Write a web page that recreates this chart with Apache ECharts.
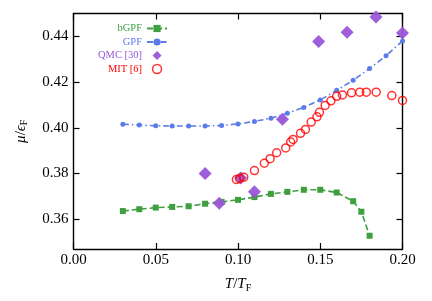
<!DOCTYPE html>
<html><head><meta charset="utf-8">
<script src="https://cdn.jsdelivr.net/npm/echarts@6/dist/echarts.min.js"></script>
<style>html,body{margin:0;padding:0;background:#fff}#c{width:432px;height:301px}</style>
</head><body><div id="c"></div>
<script>
// ---- data ----
const bgpfT  = [0.03,0.04,0.05,0.06,0.07,0.08,0.09,0.10,0.11,0.12,0.13,0.14,0.15,0.16,0.17,0.175,0.18];
const bgpfMu = [0.3636,0.3644,0.3651,0.3654,0.3657,0.3668,0.3676,0.3685,0.3697,0.3711,0.3720,0.3729,0.3729,0.3717,0.3679,0.3633,0.3528];
const gpfT   = [0.03,0.04,0.05,0.06,0.07,0.08,0.09,0.10,0.11,0.12,0.13,0.14,0.15,0.16,0.17,0.18,0.19,0.20];
const gpfMu  = [0.4016,0.4012,0.4009,0.4008,0.4008,0.4008,0.4010,0.4017,0.4028,0.4042,0.4064,0.4089,0.4122,0.4164,0.4208,0.4259,0.4315,0.4380];
const qmcT   = [0.080,0.0886,0.1016,0.110,0.127,0.149,0.1663,0.1839,0.200];
const qmcMu  = [0.3800,0.3670,0.3780,0.3720,0.4037,0.4378,0.4418,0.4485,0.4415];
const mitT   = [0.099,0.101,0.1035,0.110,0.116,0.1195,0.1235,0.129,0.132,0.1335,0.138,0.141,0.1445,0.148,0.1495,0.153,0.1565,0.160,0.1635,0.169,0.174,0.178,0.184,0.1935,0.2];
const mitMu  = [0.3774,0.3778,0.3784,0.3813,0.3845,0.3865,0.3891,0.3912,0.3938,0.3949,0.3976,0.3993,0.4025,0.4048,0.4068,0.4098,0.4118,0.4138,0.4144,0.4153,0.4156,0.4156,0.4156,0.4141,0.4120];
const xTicks = [0, 0.05, 0.10, 0.15, 0.20];
const yTicks = [0.36, 0.38, 0.40, 0.42, 0.44];
const names  = ['bGPF', 'GPF', 'QMC [30]', 'MIT [6]'];
const colors = ['#3f9f3f', '#5b7be8', '#9a55d8', '#ff0000'];

const zip = (a, b) => a.map((v, i) => [v, b[i]]);
const FONT = 'Liberation Serif';
const axisCommon = {
  axisLine: {show: true, onZero: false, lineStyle: {color: '#000', width: 1.4}},
  axisTick: {show: true, inside: true, length: 6, lineStyle: {color: '#000', width: 1.2}},
  splitLine: {show: false}
};
const legendItems = [
  {name: names[0], textStyle: {color: colors[0]}},
  {name: names[1], textStyle: {color: colors[1]}},
  {name: names[2], textStyle: {color: colors[2]}, icon: 'path://M5,0 L10,5 L5,10 L0,5 Z'},
  {name: names[3], textStyle: {color: colors[3]}, icon: 'circle',
    itemStyle: {color: '#fff', borderColor: colors[3], borderWidth: 1.5}}
];
const chart = echarts.init(document.getElementById('c'), null, {renderer: 'canvas'});
chart.setOption({
  animation: false,
  backgroundColor: '#fff',
  textStyle: {fontFamily: FONT},
  grid: {left: 73.5, right: 29.5, top: 13.5, bottom: 52, containLabel: false},
  legend: {
    orient: 'vertical', align: 'right', left: 93, top: 18,
    itemWidth: 20, itemHeight: 9, itemGap: 2.5, symbolKeepAspect: true,
    textStyle: {fontFamily: FONT, fontSize: 10.5},
    data: legendItems
  },
  xAxis: [
    Object.assign({type: 'value', position: 'bottom', min: 0, max: 0.2, interval: 0.05,
      axisLabel: {color: '#000', fontSize: 15, fontFamily: FONT, margin: 4, formatter: v => v.toFixed(2)},
      name: '{i|T}/{i|T}{s|F}', nameLocation: 'middle', nameGap: 27,
      nameTextStyle: {color: '#000', fontFamily: FONT, fontSize: 15,
        rich: {i: {fontStyle: 'italic', fontSize: 15, fontFamily: FONT}, s: {fontSize: 10, fontFamily: FONT, padding: [7, 0, 0, 0]}}}
    }, axisCommon),
    Object.assign({type: 'value', position: 'top', min: 0, max: 0.2, interval: 0.05, axisLabel: {show: false}}, axisCommon)
  ],
  yAxis: [
    Object.assign({type: 'value', position: 'left', min: 0.347, max: 0.45,
      axisLabel: {color: '#000', fontSize: 15, fontFamily: FONT, margin: 5, customValues: yTicks, formatter: v => v.toFixed(2)},
      name: '{i|μ}/{i|ϵ}{s|F}', nameLocation: 'middle', nameGap: 44, nameRotate: 90,
      nameTextStyle: {color: '#000', fontFamily: FONT, fontSize: 15,
        rich: {i: {fontStyle: 'italic', fontSize: 15, fontFamily: FONT}, s: {fontSize: 10, fontFamily: FONT, padding: [7, 0, 0, 0]}}}
    }, axisCommon,
      {axisTick: {show: true, inside: true, length: 6, customValues: yTicks, lineStyle: {color: '#000', width: 1.2}}}),
    Object.assign({type: 'value', position: 'right', min: 0.347, max: 0.45, axisLabel: {show: false}}, axisCommon,
      {axisTick: {show: true, inside: true, length: 6, customValues: yTicks, lineStyle: {color: '#000', width: 1.2}}})
  ],
  series: [
    {name: names[0], type: 'line', data: zip(bgpfT, bgpfMu), symbol: 'rect', symbolSize: 6,
      itemStyle: {color: colors[0]}, lineStyle: {color: colors[0], width: 1.6, type: [6, 3]}, z: 2},
    {name: names[1], type: 'line', data: zip(gpfT, gpfMu), symbol: 'circle', symbolSize: 5,
      itemStyle: {color: colors[1]}, lineStyle: {color: colors[1], width: 1.6, type: [6, 3, 1.5, 3]}, z: 3},
    {name: names[2], type: 'scatter', data: zip(qmcT, qmcMu), symbol: 'diamond', symbolSize: 13,
      itemStyle: {color: colors[2], opacity: 0.95}, z: 4},
    {name: names[3], type: 'scatter', data: zip(mitT, mitMu), symbol: 'circle', symbolSize: 8,
      itemStyle: {color: 'transparent', borderColor: colors[3], borderWidth: 1.5}, z: 5}
  ]
});
</script></body></html>
